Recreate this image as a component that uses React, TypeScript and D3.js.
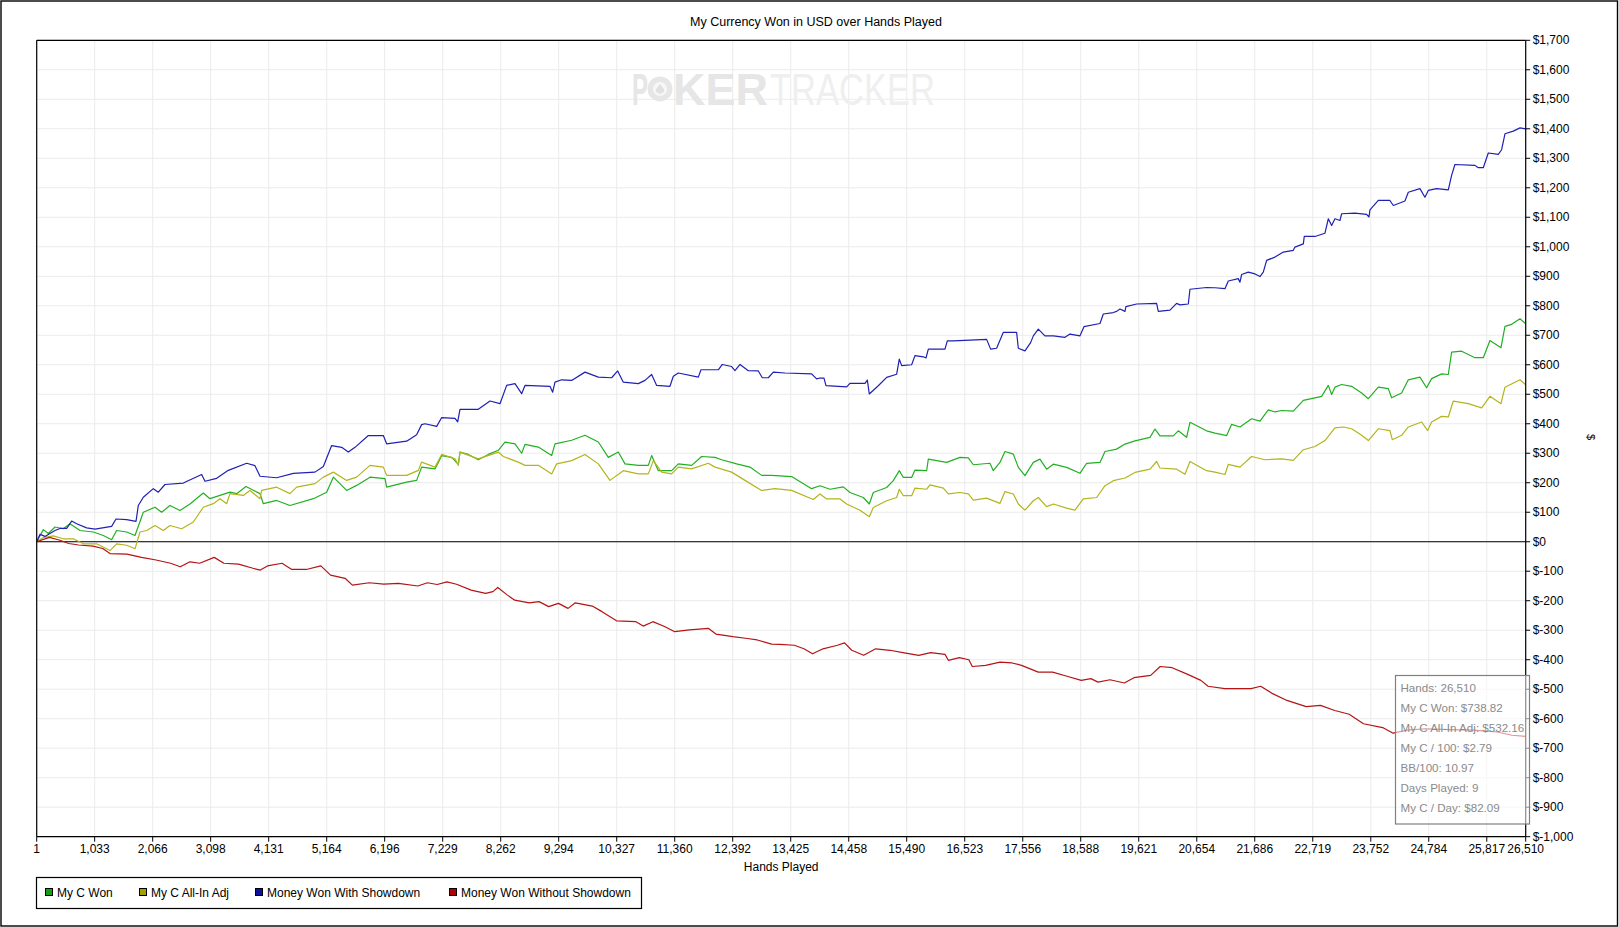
import React from "react";
import * as d3 from "d3";

// ---- data ----
const xTickLabels = [
  "1", "1,033", "2,066", "3,098", "4,131", "5,164", "6,196", "7,229", "8,262",
  "9,294", "10,327", "11,360", "12,392", "13,425", "14,458", "15,490", "16,523",
  "17,556", "18,588", "19,621", "20,654", "21,686", "22,719", "23,752", "24,784",
  "25,817", "26,510",
];
const yTicks = [
  -1000, -900, -800, -700, -600, -500, -400, -300, -200, -100, 0, 100, 200, 300,
  400, 500, 600, 700, 800, 900, 1000, 1100, 1200, 1300, 1400, 1500, 1600, 1700,
];

// [hands, $]
const myCWon: [number, number][] = [
  [1,0],[119,41],[208,28],[327,50],[475,44],[594,61],[772,38],[1009,33],[1187,21],[1335,7],[1424,38],[1603,33],[1751,21],[1899,100],[2107,117],[2226,100],[2374,123],[2552,106],[2730,128],[2967,165],[3086,146],[3264,157],[3442,168],[3561,163],[3727,187],[3976,163],[4036,129],[4273,140],[4510,123],[4926,146],[5163,168],[5282,219],[5519,174],[5697,191],[5935,219],[6202,214],[6231,185],[6587,202],[6765,208],[6854,253],[7092,247],[7211,292],[7389,286],[7507,262],[7537,304],[7685,296],[7863,278],[8041,296],[8219,310],[8338,338],[8516,332],[8635,300],[8694,330],[8932,321],[9169,292],[9228,332],[9525,344],[9762,361],[10000,338],[10178,286],[10356,304],[10474,264],[10712,259],[10890,259],[10949,292],[11068,241],[11305,241],[11424,264],[11661,259],[11839,289],[12077,286],[12195,278],[12462,264],[12700,253],[12907,225],[13085,225],[13441,221],[13797,180],[13946,190],[14035,184],[14124,178],[14361,186],[14480,167],[14717,150],[14824,128],[14895,167],[15133,184],[15251,207],[15358,241],[15430,218],[15578,218],[15637,243],[15845,241],[15875,280],[16201,269],[16438,286],[16587,284],[16676,261],[16972,266],[17032,241],[17150,269],[17239,306],[17388,297],[17477,252],[17595,224],[17744,269],[17862,280],[17981,246],[18100,263],[18337,252],[18575,232],[18693,266],[18931,269],[19020,306],[19227,314],[19376,331],[19554,342],[19821,354],[19910,382],[19999,359],[20236,359],[20325,376],[20473,354],[20533,405],[20829,376],[20978,368],[21186,360],[21275,398],[21423,389],[21631,417],[21779,409],[21927,447],[22046,440],[22165,445],[22372,443],[22551,479],[22758,488],[22877,493],[22996,530],[23055,499],[23114,524],[23233,533],[23411,527],[23589,504],[23708,485],[23886,524],[24064,519],[24123,488],[24301,504],[24420,549],[24627,558],[24746,522],[24835,553],[25013,569],[25132,567],[25191,643],[25369,646],[25607,624],[25755,624],[25874,682],[26070,658],[26141,730],[26259,737],[26408,756],[26510,739],
];

const myCAllInAdj: [number, number][] = [
  [1,0],[119,14],[297,20],[475,10],[653,10],[831,-7],[1068,-7],[1306,-30],[1424,-7],[1603,-12],[1751,-24],[1840,33],[1959,38],[2107,55],[2255,38],[2374,55],[2582,44],[2789,67],[2967,117],[3145,129],[3264,146],[3383,129],[3442,163],[3679,157],[3798,174],[3976,146],[4006,174],[4273,185],[4510,163],[4629,185],[4955,197],[5104,219],[5282,236],[5519,208],[5697,219],[5935,259],[6172,253],[6231,225],[6587,225],[6795,242],[6854,270],[7092,253],[7211,296],[7448,281],[7507,259],[7537,304],[7863,281],[8219,304],[8308,289],[8575,270],[8694,259],[8932,259],[9169,230],[9258,264],[9525,275],[9762,296],[10000,264],[10207,208],[10445,241],[10712,230],[10890,230],[10979,275],[11127,236],[11305,230],[11424,253],[11661,247],[11958,266],[12077,253],[12373,236],[12611,208],[12907,174],[13145,180],[13441,174],[13827,143],[13946,162],[14065,145],[14302,145],[14421,128],[14658,107],[14824,85],[14895,116],[15133,139],[15311,150],[15358,178],[15430,156],[15578,156],[15637,182],[15845,178],[15904,193],[16142,182],[16231,162],[16438,167],[16587,162],[16676,141],[16913,148],[17150,130],[17239,170],[17388,162],[17477,128],[17595,107],[17744,139],[17833,150],[17981,119],[18100,128],[18337,114],[18485,107],[18634,145],[18871,150],[19020,190],[19168,207],[19376,216],[19554,235],[19821,246],[19939,272],[19999,250],[20295,246],[20444,229],[20533,272],[20829,241],[20978,236],[21156,228],[21215,262],[21423,253],[21631,289],[21868,278],[22165,281],[22372,276],[22551,312],[22758,323],[22936,343],[23114,386],[23263,389],[23411,383],[23589,361],[23708,343],[23886,383],[24093,377],[24135,346],[24301,361],[24420,389],[24657,406],[24764,377],[24835,406],[25013,425],[25132,423],[25221,477],[25488,468],[25725,454],[25874,493],[26070,468],[26141,524],[26408,549],[26510,532],
];

const wonWithShowdown: [number, number][] = [
  [1,0],[60,25],[149,18],[327,38],[416,45],[534,45],[623,70],[712,61],[890,47],[1039,43],[1335,52],[1413,77],[1603,75],[1769,69],[1810,123],[1899,151],[2077,180],[2166,168],[2285,194],[2611,199],[2938,228],[2997,205],[3205,215],[3412,242],[3739,266],[3887,258],[3976,222],[4273,217],[4570,232],[4955,236],[5104,255],[5252,326],[5430,320],[5549,304],[5668,320],[5905,360],[6172,360],[6231,332],[6587,341],[6765,363],[6854,397],[6914,400],[7122,391],[7211,421],[7448,418],[7496,406],[7537,449],[7863,449],[8071,477],[8249,468],[8368,530],[8516,536],[8635,502],[8694,530],[9139,527],[9187,507],[9228,541],[9347,549],[9525,547],[9762,575],[10000,558],[10237,556],[10344,579],[10445,541],[10712,536],[10830,547],[10949,567],[11038,530],[11275,527],[11335,561],[11424,572],[11780,558],[11827,583],[12136,583],[12207,601],[12373,594],[12433,580],[12522,601],[12670,580],[12848,579],[12919,556],[13026,556],[13115,575],[13323,572],[13797,569],[13886,552],[13946,555],[14017,555],[14053,529],[14421,525],[14480,537],[14747,537],[14789,548],[14824,501],[14984,529],[15133,557],[15311,568],[15358,619],[15400,597],[15578,600],[15637,631],[15786,627],[15833,623],[15875,653],[16171,653],[16213,681],[16320,681],[16913,686],[16984,653],[17091,656],[17210,710],[17447,710],[17477,656],[17595,647],[17696,675],[17744,698],[17833,721],[17951,698],[18100,698],[18307,693],[18397,704],[18575,698],[18646,729],[18931,740],[18990,772],[19168,777],[19227,781],[19287,789],[19376,781],[19393,797],[19583,806],[19939,808],[19969,781],[20177,785],[20295,808],[20355,803],[20503,806],[20533,856],[20829,862],[20978,861],[21156,858],[21215,884],[21393,892],[21423,880],[21453,906],[21571,914],[21690,908],[21779,899],[21838,914],[21898,954],[22046,965],[22194,982],[22372,988],[22402,999],[22551,1010],[22568,1035],[22758,1035],[22936,1046],[22996,1095],[23055,1072],[23114,1095],[23203,1089],[23233,1112],[23470,1114],[23678,1110],[23720,1101],[23737,1125],[23886,1157],[24093,1157],[24153,1140],[24360,1155],[24420,1185],[24627,1197],[24716,1168],[24776,1191],[24924,1197],[25132,1193],[25191,1242],[25250,1279],[25607,1276],[25666,1268],[25755,1268],[25844,1318],[26022,1313],[26081,1329],[26141,1383],[26289,1392],[26408,1403],[26510,1400],
];

const wonWithoutShowdown: [number, number][] = [
  [1,0],[227,15],[400,6],[572,-6],[745,-11],[1004,-15],[1176,-23],[1306,-40],[1608,-42],[1867,-53],[2126,-62],[2384,-73],[2557,-85],[2730,-68],[2902,-73],[3161,-53],[3334,-73],[3593,-76],[3852,-90],[3981,-96],[4110,-82],[4369,-73],[4542,-94],[4801,-94],[5060,-82],[5232,-113],[5491,-124],[5621,-147],[5923,-139],[6181,-144],[6440,-141],[6786,-150],[6958,-139],[7131,-145],[7304,-136],[7476,-144],[7735,-164],[7994,-175],[8123,-169],[8210,-155],[8382,-181],[8512,-198],[8771,-207],[8943,-203],[9116,-220],[9289,-209],[9461,-226],[9590,-207],[9892,-218],[10065,-237],[10324,-268],[10669,-271],[10799,-286],[10971,-271],[11187,-288],[11360,-305],[11619,-299],[11964,-294],[12093,-313],[12395,-322],[12654,-328],[12827,-333],[13086,-347],[13234,-348],[13489,-351],[13660,-363],[13813,-380],[14000,-363],[14256,-351],[14384,-343],[14511,-368],[14724,-385],[14937,-363],[15192,-368],[15448,-377],[15703,-385],[15916,-376],[16172,-382],[16231,-402],[16427,-393],[16597,-400],[16657,-423],[16895,-419],[17151,-408],[17364,-411],[17534,-419],[17832,-442],[18088,-442],[18343,-456],[18598,-470],[18769,-464],[18896,-476],[19109,-468],[19365,-479],[19535,-461],[19833,-453],[20003,-423],[20216,-427],[20472,-448],[20727,-470],[20855,-490],[21153,-498],[21408,-498],[21621,-498],[21792,-490],[22004,-515],[22260,-538],[22601,-559],[22856,-555],[23111,-572],[23367,-585],[23622,-617],[23963,-630],[24150,-649],[24389,-639],[24730,-634],[25155,-637],[25581,-639],[26007,-645],[26262,-656],[26510,-660],
];

const seriesNames = ["My C Won", "My C All-In Adj", "Money Won With Showdown", "Money Won Without Showdown"];
const seriesData = [myCWon, myCAllInAdj, wonWithShowdown, wonWithoutShowdown];
const lineColors = ["#22b022", "#b4b41e", "#2020b4", "#b41414"];
const swatchColors = ["#14a014", "#a0a000", "#1010a0", "#b00000"];

const tooltipLines = [
  "Hands: 26,510",
  "My C Won: $738.82",
  "My C All-In Adj: $532.16",
  "My C / 100: $2.79",
  "BB/100: 10.97",
  "Days Played: 9",
  "My C / Day: $82.09",
];

const FONT = "'Liberation Sans', Arial, sans-serif";

const App: React.FC = () => {
  const W = 1619;
  const H = 927;
  const left = 36.7;
  const right = 1525.7;
  const top = 40.3;
  const bottom = 836.7;

  const x = d3.scaleLinear().domain([1, 26510]).range([left, right]);
  const y = d3.scaleLinear().domain([-1000, 1700]).range([bottom, top]);
  const line = d3
    .line<[number, number]>()
    .x((d) => x(d[0]))
    .y((d) => y(d[1]));

  const xTicks = xTickLabels.map((l) => +l.replace(/,/g, ""));
  const fmt = d3.format(",");
  const money = (v: number) => (v < 0 ? "$-" + fmt(-v) : "$" + fmt(v));

  const legendX = [45, 139, 255, 449];

  return (
    <svg
      width={W}
      height={H}
      style={{ position: "absolute", left: 0, top: 0, background: "#fff" }}
      fontFamily={FONT}
    >
      <rect x={0} y={0} width={W} height={H} fill="#fff" />
      <rect x={1} y={1} width={1616.5} height={925} fill="none" stroke="#000" strokeWidth={1.4} />

      <text x={816} y={26} textAnchor="middle" fontSize={12.5} fill="#000">
        My Currency Won in USD over Hands Played
      </text>

      {/* grid */}
      <g stroke="#ebebeb" strokeWidth={1}>
        {xTicks.map((t) => (
          <line key={"gx" + t} x1={x(t)} x2={x(t)} y1={top} y2={bottom} />
        ))}
        {yTicks.map((t) => (
          <line key={"gy" + t} x1={left} x2={right} y1={y(t)} y2={y(t)} />
        ))}
      </g>

      {/* watermark */}
      <g>
        <text x={632} y={105} fontSize={44} fontWeight="bold" fill="#e6e6e6" textLength={16} lengthAdjust="spacingAndGlyphs">
          P
        </text>
        <circle cx={660} cy={89} r={12.5} fill="#e6e6e6" />
        <circle cx={660} cy={89} r={7} fill="#f7f7f7" />
        <path
          transform="translate(660,89)"
          d="M0,-5 C-2,-2 -5,0 -4,2.5 C-3,4.5 -1,4 -0.6,2.5 L-1.5,5 L1.5,5 L0.6,2.5 C1,4 3,4.5 4,2.5 C5,0 2,-2 0,-5 Z"
          fill="#e0e0e0"
        />
        <text x={673} y={105} fontSize={44} fontWeight="bold" fill="#e6e6e6" textLength={95} lengthAdjust="spacingAndGlyphs">
          KER
        </text>
        <text x={770} y={105} fontSize={44} fill="#efefef" textLength={165} lengthAdjust="spacingAndGlyphs">
          TRACKER
        </text>
      </g>

      {/* series */}
      <defs>
        <clipPath id="plotClip">
          <rect x={left} y={top} width={right - left} height={bottom - top} />
        </clipPath>
      </defs>
      <line x1={left} x2={right} y1={y(0)} y2={y(0)} stroke="#000" strokeWidth={1} />
      <g clipPath="url(#plotClip)" fill="none" strokeWidth={1.2} strokeLinejoin="round">
        {seriesData.map((d, i) => (
          <path key={seriesNames[i]} d={line(d) ?? ""} stroke={lineColors[i]} />
        ))}
      </g>

      {/* plot frame */}
      <line x1={left} x2={right} y1={top} y2={top} stroke="#000" strokeWidth={1.2} />
      <line x1={left} x2={left} y1={top} y2={bottom} stroke="#000" strokeWidth={1.2} />
      <line x1={right} x2={right} y1={top} y2={bottom} stroke="#000" strokeWidth={1.2} />
      <line x1={left} x2={right} y1={bottom} y2={bottom} stroke="#000" strokeWidth={1.2} />

      {/* y axis (right) */}
      <g fontSize={12} fill="#000">
        {yTicks.map((t) => (
          <g key={"yt" + t}>
            <line x1={right} x2={right + 4.5} y1={y(t)} y2={y(t)} stroke="#000" />
            <text x={right + 7} y={y(t) + 4}>
              {money(t)}
            </text>
          </g>
        ))}
      </g>
      <text transform={`translate(1587,437) rotate(90)`} fontSize={11} textAnchor="middle" fill="#000">
        $
      </text>

      {/* x axis */}
      <g fontSize={12} fill="#000">
        {xTicks.map((t, i) => (
          <g key={"xt" + t}>
            <line x1={x(t)} x2={x(t)} y1={bottom} y2={bottom + 5} stroke="#000" />
            <text x={x(t)} y={853} textAnchor="middle">
              {xTickLabels[i]}
            </text>
          </g>
        ))}
      </g>
      <text x={(left + right) / 2} y={871} textAnchor="middle" fontSize={12} fill="#000">
        Hands Played
      </text>

      {/* legend */}
      <rect x={36.5} y={877.5} width={605} height={31} fill="#fff" stroke="#000" strokeWidth={1.2} />
      {seriesNames.map((n, i) => (
        <g key={"lg" + n}>
          <rect x={legendX[i] + 0.5} y={888.5} width={7} height={7} fill={swatchColors[i]} stroke="#000" strokeWidth={1} />
          <text x={legendX[i] + 12} y={897} fontSize={12} fill="#000">
            {n}
          </text>
        </g>
      ))}

      {/* hover tooltip */}
      <rect x={1395.5} y={675.5} width={134} height={148.5} fill="#fff" fillOpacity={0.55} stroke="#808080" strokeWidth={1.2} />
      {tooltipLines.map((t, i) => (
        <text key={"tt" + i} x={1400.5} y={692 + i * 20} fontSize={11.6} fill="#8a8a8a">
          {t}
        </text>
      ))}
    </svg>
  );
};

export default App;
